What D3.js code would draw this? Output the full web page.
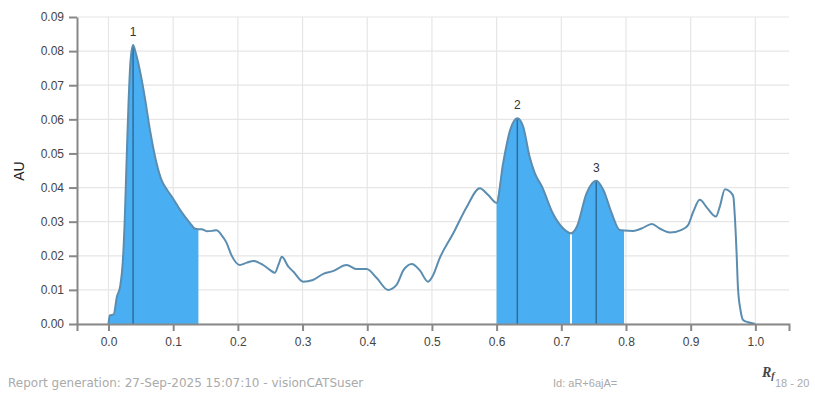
<!DOCTYPE html>
<html>
<head>
<meta charset="utf-8">
<script src="https://cdn.jsdelivr.net/npm/d3@7"></script>
<style>
  html, body { margin: 0; padding: 0; background: #fff; }
  svg { display: block; font-family: "Liberation Sans", Arial, sans-serif; }
</style>
</head>
<body>
<svg id="chart" width="815" height="400"></svg>
<script>
// Densitometric scan: retention factor (Rf) against absorbance (AU)
const rfValues = [
  0.000, 0.002, 0.008, 0.013, 0.018, 0.022, 0.025, 0.028, 0.031, 0.034,
  0.038, 0.042, 0.046, 0.056, 0.064, 0.0745, 0.082, 0.090, 0.098, 0.113,
  0.126, 0.134, 0.139, 0.144, 0.152, 0.160, 0.167, 0.175, 0.182, 0.190,
  0.203, 0.214, 0.224, 0.239, 0.250, 0.257, 0.263, 0.268, 0.278, 0.286,
  0.301, 0.316, 0.332, 0.347, 0.368, 0.384, 0.399, 0.415, 0.432, 0.445,
  0.456, 0.469, 0.481, 0.494, 0.502, 0.512, 0.533, 0.554, 0.574, 0.587,
  0.600, 0.610, 0.621, 0.632, 0.641, 0.651, 0.659, 0.670, 0.687, 0.703,
  0.715, 0.724, 0.739, 0.754, 0.765, 0.778, 0.790, 0.797, 0.811, 0.824,
  0.840, 0.852, 0.868, 0.886, 0.896, 0.904, 0.914, 0.926, 0.939, 0.945,
  0.953, 0.961, 0.966, 0.968, 0.971, 0.973, 0.977, 0.981, 0.989, 1.000
];
const auValues = [
  0.0000, 0.0025, 0.0028, 0.0080, 0.0110, 0.0180, 0.0300, 0.0480, 0.0650, 0.0770,
  0.0818, 0.0795, 0.0765, 0.0666, 0.0570, 0.0470, 0.0422, 0.0395, 0.0373, 0.0328,
  0.0296, 0.0279, 0.0278, 0.0278, 0.0272, 0.0273, 0.0275, 0.0260, 0.0240, 0.0202,
  0.0173, 0.0180, 0.0185, 0.0173, 0.0158, 0.0150, 0.0175, 0.0197, 0.0168, 0.0153,
  0.0124, 0.0129, 0.0147, 0.0155, 0.0173, 0.0161, 0.0161, 0.0134, 0.0100, 0.0114,
  0.0158, 0.0176, 0.0158, 0.0124, 0.0144, 0.0193, 0.0266, 0.0344, 0.0398, 0.0378,
  0.0355, 0.0471, 0.0569, 0.0603, 0.0579, 0.0490, 0.0442, 0.0403, 0.0324, 0.0280,
  0.0266, 0.0285, 0.0383, 0.0420, 0.0393, 0.0324, 0.0276, 0.0274, 0.0273, 0.0280,
  0.0293, 0.0280, 0.0268, 0.0276, 0.0290, 0.0329, 0.0364, 0.0339, 0.0315, 0.0344,
  0.0395, 0.0388, 0.0373, 0.0324, 0.0207, 0.0110, 0.0041, 0.0012, 0.0005, 0.0000
];

// Integrated peaks: label, apex position, and integration limits
const peakLabels = ["1", "2", "3"];
const peakRf     = [0.038, 0.632, 0.754];
const peakAu     = [0.0818, 0.0603, 0.0420];
const peakStart  = [0.000, 0.600, 0.715];
const peakEnd    = [0.139, 0.715, 0.797];

const xTicks = [0.0, 0.1, 0.2, 0.3, 0.4, 0.5, 0.6, 0.7, 0.8, 0.9, 1.0];
const yTicks = [0.00, 0.01, 0.02, 0.03, 0.04, 0.05, 0.06, 0.07, 0.08, 0.09];

const footerLeft = "Report generation: 27-Sep-2025 15:07:10 - visionCATSuser";
const footerMid = "Id: aR+6ajA=";
const footerRight = "18 - 20";

const points = rfValues.map((rf, i) => ({ rf, au: auValues[i] }));

const svg = d3.select("#chart");
const x = d3.scaleLinear().domain([-0.0487, 1.052]).range([77, 789]);
const y = d3.scaleLinear().domain([0, 0.09]).range([324, 17]);

// grid
const grid = svg.append("g");
grid.selectAll("line.v").data(xTicks).join("line")
  .attr("x1", d => x(d)).attr("x2", d => x(d))
  .attr("y1", y(0.09)).attr("y2", y(0))
  .attr("stroke", "#e6e6e6").attr("stroke-width", 1.2);
grid.selectAll("line.h").data(yTicks).join("line")
  .attr("x1", x.range()[0]).attr("x2", x.range()[1])
  .attr("y1", d => y(d)).attr("y2", d => y(d))
  .attr("stroke", "#e6e6e6").attr("stroke-width", 1.2);

const curve = d3.curveMonotoneX;
const area = d3.area().x(d => x(d.rf)).y0(y(0)).y1(d => y(d.au)).curve(curve);
const line = d3.line().x(d => x(d.rf)).y(d => y(d.au)).curve(curve);

// filled integration regions
peakStart.forEach((s, i) => {
  const seg = points.filter(p => p.rf >= s - 1e-9 && p.rf <= peakEnd[i] + 1e-9);
  svg.append("path").datum(seg).attr("d", area)
    .attr("fill", "#4aaef2");
});

// separators between adjoining regions
peakStart.forEach((s, i) => {
  if (i > 0 && Math.abs(s - peakEnd[i - 1]) < 1e-9) {
    const p = points.find(q => Math.abs(q.rf - s) < 1e-9);
    svg.append("line")
      .attr("x1", x(s)).attr("x2", x(s))
      .attr("y1", y(0)).attr("y2", y(p.au) + 1)
      .attr("stroke", "#ffffff").attr("stroke-width", 2);
  }
});

// apex markers
peakRf.forEach((r, i) => {
  svg.append("line")
    .attr("x1", x(r)).attr("x2", x(r))
    .attr("y1", y(0)).attr("y2", y(peakAu[i]))
    .attr("stroke", "#2d6d9c").attr("stroke-width", 1.5);
  svg.append("text")
    .attr("x", x(r)).attr("y", y(peakAu[i]) - 9)
    .attr("text-anchor", "middle")
    .attr("font-size", 12).attr("fill", "#333")
    .text(peakLabels[i]);
});

// scan trace
svg.append("path").datum(points).attr("d", line)
  .attr("fill", "none").attr("stroke", "#5b8db0").attr("stroke-width", 2);

// axes
const xAxis = svg.append("g").attr("transform", `translate(0,${y(0)})`)
  .call(d3.axisBottom(x).tickValues(xTicks).tickFormat(d3.format(".1f"))
    .tickSize(7).tickSizeOuter(7).tickPadding(6));
const yAxis = svg.append("g").attr("transform", `translate(${x.range()[0]},0)`)
  .call(d3.axisLeft(y).tickValues(yTicks).tickFormat(d3.format(".2f"))
    .tickSize(8).tickSizeOuter(0).tickPadding(5));
[xAxis, yAxis].forEach(g => {
  g.select(".domain").attr("stroke", "#888").attr("stroke-width", 2);
  g.selectAll(".tick line").attr("stroke", "#888").attr("stroke-width", 2);
  g.selectAll(".tick text").attr("fill", "#444").attr("font-size", 12)
    .attr("font-family", "Liberation Sans, Arial, sans-serif");
});

// axis titles
svg.append("text")
  .attr("transform", "translate(24,171) rotate(-90)")
  .attr("text-anchor", "middle")
  .attr("font-size", 14).attr("fill", "#222")
  .text("AU");
const rfTitle = svg.append("text")
  .attr("x", 762).attr("y", 377)
  .attr("font-family", "Liberation Serif, serif")
  .attr("font-style", "italic").attr("font-weight", "bold")
  .attr("font-size", 14).attr("fill", "#444");
rfTitle.append("tspan").text("R");
rfTitle.append("tspan").attr("font-size", 10).attr("dy", 2).text("f");

// report footer
const footer = svg.append("g").attr("fill", "#aaa");
footer.append("text").attr("x", 8).attr("y", 387)
  .attr("font-family", "DejaVu Sans, sans-serif").attr("font-size", 12)
  .text(footerLeft);
footer.append("text").attr("x", 553).attr("y", 387).attr("font-size", 11).text(footerMid);
footer.append("text").attr("x", 775).attr("y", 387).attr("font-size", 11).text(footerRight);
</script>
</body>
</html>
